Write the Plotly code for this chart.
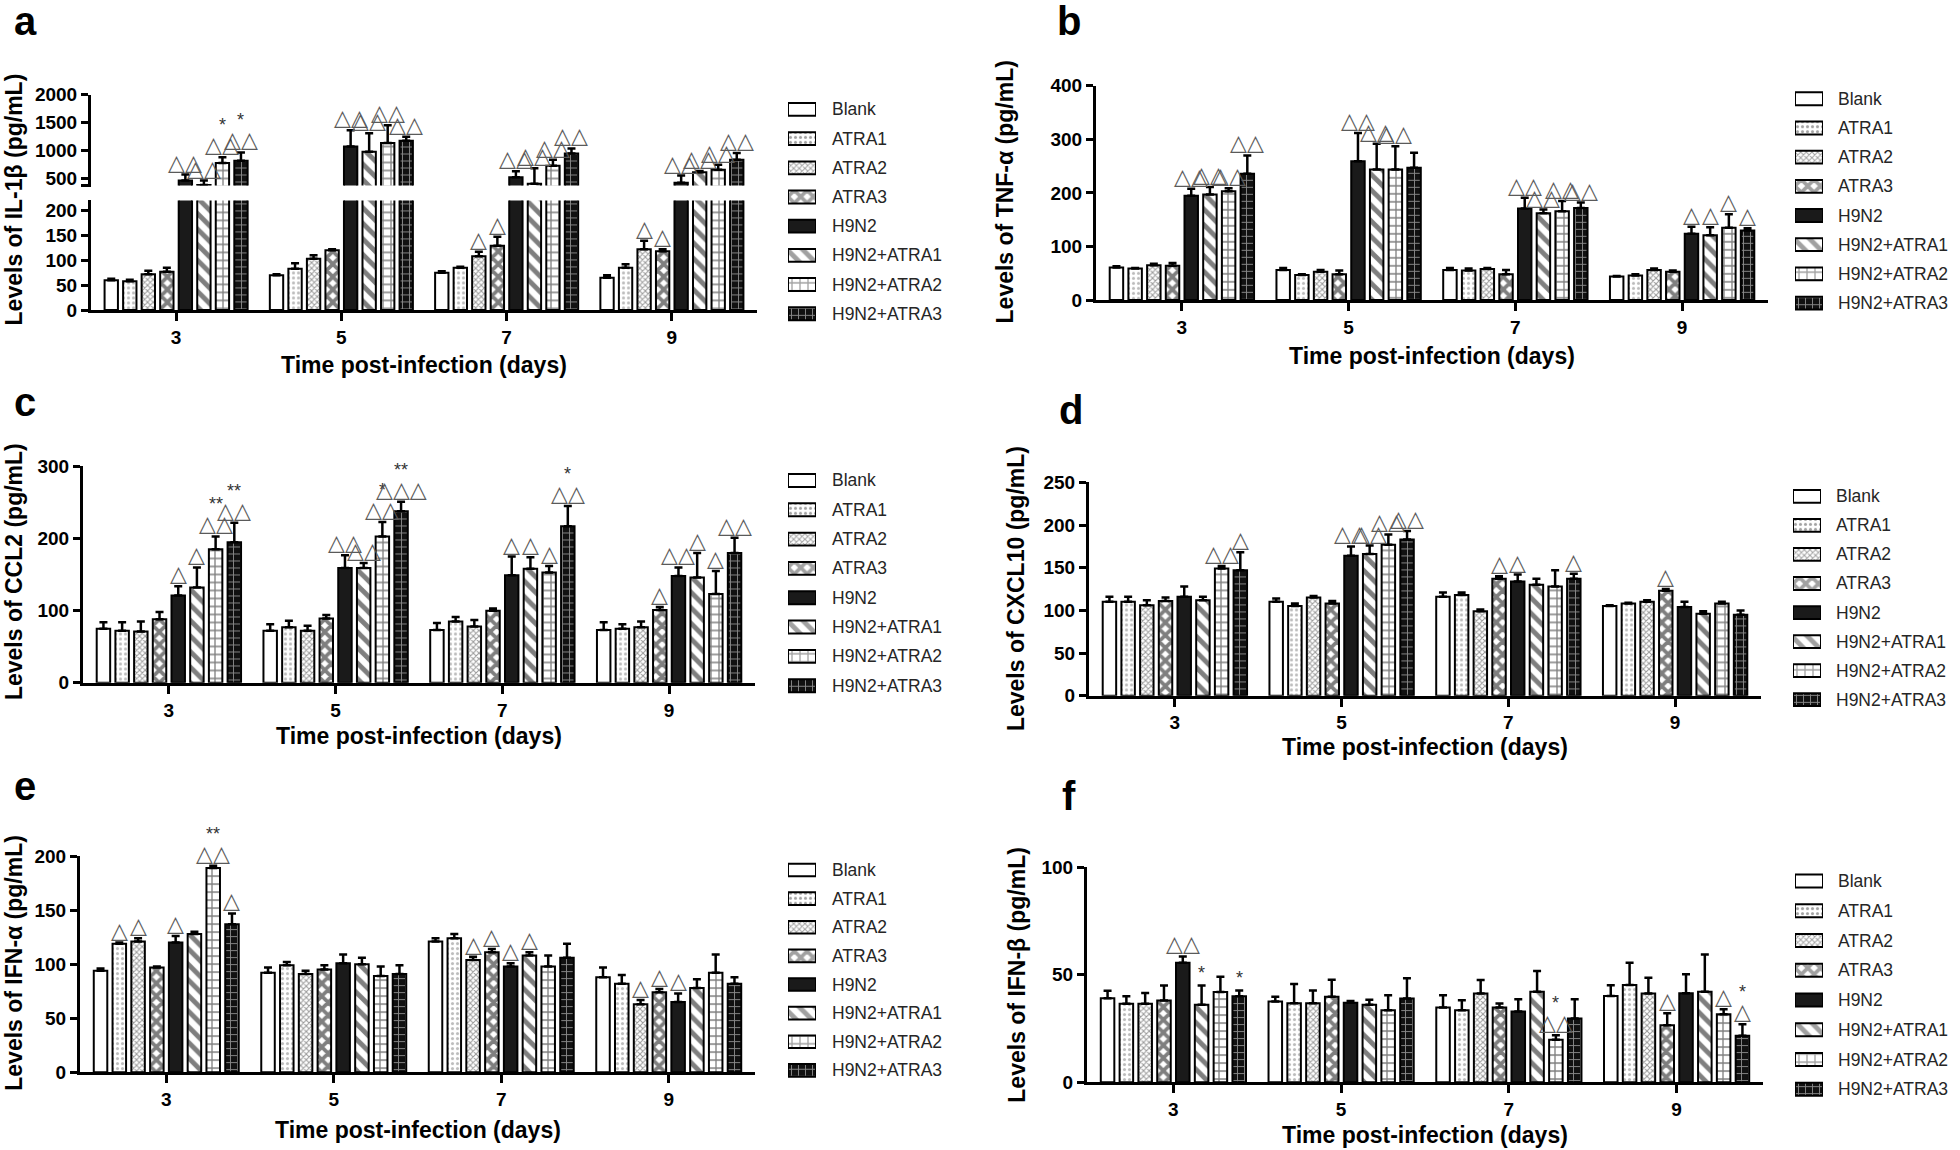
import plotly.graph_objects as go

W, H = 1960, 1150
FONT = "Liberation Sans, Arial, Helvetica, sans-serif"
SYM = "DejaVu Sans, sans-serif"

days = ["3", "5", "7", "9"]
groups = ["Blank", "ATRA1", "ATRA2", "ATRA3", "H9N2", "H9N2+ATRA1", "H9N2+ATRA2", "H9N2+ATRA3"]

# ---------------- data (rows = groups, columns = days 3,5,7,9) ----------------
il1b_mean = [[60, 70, 75, 65], [58, 83, 85, 85], [72, 103, 108, 122], [77, 120, 129, 118],
             [458, 1069, 518, 417], [380, 975, 400, 607], [773, 1129, 725, 654], [814, 1170, 945, 832]]
il1b_err = [[3, 2, 3, 5], [3, 11, 2, 7], [7, 7, 9, 17], [8, 2, 18, 4],
            [107, 290, 107, 130], [78, 330, 278, 23], [101, 320, 107, 89], [149, 71, 89, 118]]

tnfa_mean = [[61, 56, 56, 44], [59, 47, 55, 46], [65, 53, 58, 56], [64, 48, 48, 53],
             [195, 259, 171, 124], [197, 244, 162, 121], [203, 244, 166, 135], [236, 247, 172, 130]]
tnfa_err = [[2, 4, 4, 1], [1, 1, 4, 2], [3, 3, 2, 3], [5, 7, 8, 2],
            [13, 53, 20, 13], [14, 48, 7, 15], [6, 43, 19, 25], [34, 28, 10, 4]]

ccl2_mean = [[75, 72, 73, 73], [72, 77, 85, 75], [71, 72, 78, 77], [88, 89, 100, 101],
             [121, 159, 149, 148], [132, 159, 158, 146], [185, 203, 153, 123], [195, 238, 217, 180]]
ccl2_err = [[9, 9, 10, 11], [12, 9, 6, 6], [14, 7, 9, 8], [10, 5, 3, 4],
            [13, 18, 26, 12], [28, 7, 16, 34], [18, 20, 9, 32], [27, 13, 28, 21]]

cxcl10_mean = [[110, 110, 116, 105], [110, 105, 118, 108], [106, 115, 99, 110], [111, 108, 137, 123],
               [116, 164, 134, 104], [112, 166, 130, 96], [149, 177, 128, 108], [147, 183, 137, 95]]
cxcl10_err = [[6, 4, 5, 1], [6, 3, 3, 1], [6, 2, 2, 2], [4, 3, 3, 2],
              [12, 11, 8, 6], [4, 10, 7, 3], [3, 12, 19, 2], [21, 10, 6, 5]]

ifna_mean = [[94, 92, 121, 88], [119, 99, 124, 82], [121, 91, 104, 63], [97, 95, 111, 74],
             [120, 101, 98, 65], [128, 100, 108, 78], [189, 89, 98, 92], [137, 91, 106, 82]]
ifna_err = [[2, 5, 3, 9], [1, 3, 4, 8], [3, 3, 3, 4], [1, 4, 3, 3],
            [6, 8, 3, 8], [2, 6, 3, 8], [2, 9, 10, 17], [10, 8, 13, 6]]

ifnb_mean = [[39, 37.5, 34.7, 40.1], [36.5, 36.7, 33.5, 45.2], [36.5, 36.7, 41.2, 41.2], [38, 39.7, 34.7, 26.5],
             [55.5, 37, 32.9, 41.4], [36, 36, 42.1, 42.1], [42, 33.5, 19.8, 31.6], [40, 38.9, 29.6, 21.6]]
ifnb_err = [[3.5, 2.3, 5.7, 5], [3.5, 9, 4.6, 10.4], [5, 6, 6.3, 7.4], [7, 8, 1.9, 5.6],
            [3, 0.8, 5.7, 8.8], [9, 2.3, 9.6, 17.3], [7, 7, 2.1, 2.3], [2.7, 9.4, 9, 5.4]]

# significance marks: (day index, group index, triangles, stars)
il1b_marks = [(0, 4, "△△", ""), (0, 5, "△△", ""), (0, 6, "△△", "*"), (0, 7, "△△", "*"),
              (1, 4, "△△", ""), (1, 5, "△△", ""), (1, 6, "△△", ""), (1, 7, "△△", ""),
              (2, 2, "△", ""), (2, 3, "△", ""), (2, 4, "△△", ""), (2, 5, "△△", ""), (2, 6, "△△", ""), (2, 7, "△△", ""),
              (3, 2, "△", ""), (3, 3, "△", ""), (3, 4, "△△", ""), (3, 5, "△△", ""), (3, 6, "△△", ""), (3, 7, "△△", "")]
tnfa_marks = [(0, 4, "△△", ""), (0, 5, "△△", ""), (0, 6, "△△", ""), (0, 7, "△△", ""),
              (1, 4, "△△", ""), (1, 5, "△△", ""), (1, 6, "△△", ""),
              (2, 4, "△△", ""), (2, 5, "△△", ""), (2, 6, "△△", ""), (2, 7, "△△", ""),
              (3, 4, "△", ""), (3, 5, "△", ""), (3, 6, "△", ""), (3, 7, "△", "")]
ccl2_marks = [(0, 4, "△", ""), (0, 5, "△", ""), (0, 6, "△△", "**"), (0, 7, "△△", "**"),
              (1, 4, "△△", ""), (1, 5, "△△", ""), (1, 6, "△△", "*"), (1, 7, "△△△", "**"),
              (2, 4, "△", ""), (2, 5, "△", ""), (2, 6, "△", ""), (2, 7, "△△", "*"),
              (3, 3, "△", ""), (3, 4, "△△", ""), (3, 5, "△", ""), (3, 6, "△", ""), (3, 7, "△△", "")]
cxcl10_marks = [(0, 6, "△△", ""), (0, 7, "△", ""),
                (1, 4, "△△", ""), (1, 5, "△△", ""), (1, 6, "△△", ""), (1, 7, "△△", ""),
                (2, 3, "△", ""), (2, 4, "△", ""), (2, 7, "△", ""),
                (3, 3, "△", "")]
ifna_marks = [(0, 1, "△", ""), (0, 2, "△", ""), (0, 4, "△", ""), (0, 6, "△△", "**"), (0, 7, "△", ""),
              (2, 2, "△", ""), (2, 3, "△", ""), (2, 4, "△", ""), (2, 5, "△", ""),
              (3, 2, "△", ""), (3, 3, "△", ""), (3, 4, "△", "")]
ifnb_marks = [(0, 4, "△△", ""), (0, 5, "", "*"), (0, 7, "", "*"),
              (2, 6, "△△", "*"),
              (3, 3, "△", ""), (3, 6, "△", ""), (3, 7, "△", "*")]

# ---------------- styles ----------------
bar_fill = ["white", "white", "white", "white", "#1a1a1a", "white", "white", "#111111"]
pat_shape = ["", ".", "x", "x", "", "\\", "+", "+"]
pat_bg = ["white", "white", "white", "white", "#1a1a1a", "white", "white", "#111111"]
pat_fg = ["black", "#7a7a7a", "#333333", "black", "black", "black", "black", "white"]
pat_size = [8, 5, 4, 9, 8, 11, 8, 7]
pat_solid = [0.3, 0.3, 0.45, 0.65, 0.3, 0.45, 0.3, 0.25]

BARGAP = 0.103
SLOT = (1 - BARGAP) / 8


def X(p):
    return p / W


def Y(p):
    q = 1.015 * p - 7
    return 1 - q / H


fig = go.Figure()
annotations = []
shapes = []


def add_bars(n, means, errs, keep=None):
    for g in range(8):
        shown = keep is None or g in keep
        vals = list(means[g]) if shown else [None] * 4
        fig.add_trace(go.Bar(
            x=[0, 1, 2, 3], y=vals, name=groups[g], showlegend=False,
            xaxis="x" + str(n), yaxis="y" + str(n),
            marker=dict(color=bar_fill[g], line=dict(color="black", width=2),
                        pattern=dict(shape=pat_shape[g], bgcolor=pat_bg[g], fgcolor=pat_fg[g],
                                     size=pat_size[g], solidity=pat_solid[g])),
            error_y=dict(type="data", array=list(errs[g]), arrayminus=[0] * 4, symmetric=False,
                         color="black", thickness=2.5, width=4, visible=shown),
            hoverinfo="skip"))


def add_marks(n, marks, means, errs, which=None):
    for d, g, tri, star in marks:
        if which is not None and not which(g):
            continue
        xv = d + (g - 3.5) * SLOT
        yv = means[g][d] + errs[g][d]
        if tri:
            annotations.append(dict(x=xv, y=yv, xref="x" + str(n), yref="y" + str(n), text=tri,
                                    showarrow=False, yanchor="bottom", yshift=-2,
                                    font=dict(family=SYM, size=22, color="#5a5a5a")))
        if star:
            annotations.append(dict(x=xv, y=yv, xref="x" + str(n), yref="y" + str(n), text=star,
                                    showarrow=False, yanchor="bottom", yshift=(20 if tri else 0),
                                    font=dict(family=FONT, size=18, color="#333333")))


def xaxis_def(x0, x1, n, visible=True):
    d = dict(domain=[X(x0), X(x1)], anchor="y" + str(n), range=[-0.515, 3.515],
             tickmode="array", tickvals=[0, 1, 2, 3], ticktext=days,
             showline=True, linecolor="black", linewidth=3, ticks="outside", ticklen=8,
             tickwidth=3, tickcolor="black", showgrid=False, zeroline=False,
             tickfont=dict(family=FONT, size=19, color="black", weight="bold"),
             ticklabelstandoff=0, fixedrange=True)
    if not visible:
        d.update(visible=False)
    return d


def yaxis_def(y_top, y_bot, n, rng, tickvals):
    return dict(domain=[Y(y_bot), Y(y_top)], anchor="x" + str(n), range=rng,
                tickmode="array", tickvals=tickvals, showline=True, linecolor="black",
                linewidth=3, ticks="outside", ticklen=7, tickwidth=2.5, tickcolor="black",
                showgrid=False, zeroline=False,
                tickfont=dict(family=FONT, size=19, color="black", weight="bold"), fixedrange=True)


layout_axes = {}

# Panel a (broken axis): lower = 1, upper = 2
add_bars(1, il1b_mean, il1b_err)
for tr in fig.data[-4:]:
    tr.error_y.visible = False
add_bars(2, il1b_mean, il1b_err, keep=[4, 5, 6, 7])
layout_axes["xaxis"] = xaxis_def(91, 757, 1)
layout_axes["yaxis"] = yaxis_def(198, 308, 1, [0, 220], [0, 50, 100, 150, 200])
layout_axes["xaxis2"] = xaxis_def(91, 757, 2, visible=False)
layout_axes["yaxis2"] = yaxis_def(91.7, 183, 2, [370, 2000], [500, 1000, 1500, 2000])
add_marks(1, il1b_marks, il1b_mean, il1b_err, which=lambda g: g < 4)
add_marks(2, il1b_marks, il1b_mean, il1b_err, which=lambda g: g >= 4)
shapes.append(dict(type="line", xref="paper", yref="paper", x0=X(81), x1=X(91), y0=Y(183), y1=Y(183),
                   line=dict(color="black", width=3)))

panels = [
    # n, means, errs, marks, x0, x1, ytop, ybot, range, ticks
    (3, tnfa_mean, tnfa_err, tnfa_marks, 1096, 1768, 83, 298, [0, 400], [0, 100, 200, 300, 400]),
    (4, ccl2_mean, ccl2_err, ccl2_marks, 83, 755, 465, 682, [0, 300], [0, 100, 200, 300]),
    (5, cxcl10_mean, cxcl10_err, cxcl10_marks, 1089, 1761, 481, 695, [0, 250], [0, 50, 100, 150, 200, 250]),
    (6, ifna_mean, ifna_err, ifna_marks, 80, 755, 856, 1073, [0, 200], [0, 50, 100, 150, 200]),
    (7, ifnb_mean, ifnb_err, ifnb_marks, 1087, 1763, 867, 1083, [0, 100], [0, 50, 100]),
]
for n, m, e, mk, x0, x1, yt, yb, rng, tv in panels:
    add_bars(n, m, e)
    layout_axes["xaxis" + str(n)] = xaxis_def(x0, x1, n)
    layout_axes["yaxis" + str(n)] = yaxis_def(yt, yb, n, rng, tv)
    add_marks(n, mk, m, e)

# ---------------- legends (pattern swatches drawn as a small bar subplot) ----------------
legends = [
    (8, 788, 816, 830, 106.7, 311.7),
    (9, 1795, 1823, 1836, 96, 301),
    (10, 788, 816, 830, 479, 685),
    (11, 1793, 1821, 1834, 495, 699),
    (12, 788, 816, 830, 870, 1071),
    (13, 1795, 1823, 1836, 881, 1090),
]
for n, ix0, ix1, tx, r0, r1 in legends:
    sp = (r1 - r0) / 7
    fig.add_trace(go.Bar(
        y=list(range(8)), x=[1] * 8, orientation="h", width=0.44, showlegend=False,
        xaxis="x" + str(n), yaxis="y" + str(n), hoverinfo="skip",
        marker=dict(color=bar_fill, line=dict(color="black", width=2),
                    pattern=dict(shape=pat_shape, bgcolor=pat_bg, fgcolor=pat_fg,
                                 size=pat_size, solidity=pat_solid))))
    layout_axes["xaxis" + str(n)] = dict(domain=[X(ix0), X(ix1)], anchor="y" + str(n), range=[0, 1],
                                         visible=False, fixedrange=True)
    layout_axes["yaxis" + str(n)] = dict(domain=[Y(r1 + sp / 2), Y(r0 - sp / 2)], anchor="x" + str(n),
                                         range=[7.5, -0.5], visible=False, fixedrange=True)
    for i, gname in enumerate(groups):
        annotations.append(dict(x=X(tx), y=Y(r0 + i * sp), xref="paper", yref="paper", text=gname,
                                showarrow=False, xanchor="left", yanchor="middle",
                                font=dict(family=FONT, size=17.5, color="#262626")))

# ---------------- titles & panel letters ----------------
ytitles = [
    ("Levels of IL-1β (pg/mL)", 14, 197),
    ("Levels of TNF-α (pg/mL)", 1005, 190),
    ("Levels of CCL2 (pg/mL)", 14, 571),
    ("Levels of CXCL10 (pg/mL)", 1016, 588),
    ("Levels of IFN-α (pg/mL)", 14, 963),
    ("Levels of IFN-β (pg/mL)", 1017, 975),
]
for t, xx, yy in ytitles:
    annotations.append(dict(x=X(xx), y=Y(yy), xref="paper", yref="paper", text=t, textangle=-90,
                            showarrow=False, xanchor="center", yanchor="middle",
                            font=dict(family=FONT, size=23, color="black", weight="bold")))
xtitles = [(424, 363), (1432, 354), (419, 735), (1425, 747), (418, 1131), (1425, 1136)]
for xx, yy in xtitles:
    annotations.append(dict(x=X(xx), y=Y(yy), xref="paper", yref="paper", text="Time post-infection (days)",
                            showarrow=False, xanchor="center", yanchor="middle",
                            font=dict(family=FONT, size=23, color="black", weight="bold")))
letters = [("a", 25, 18), ("b", 1069, 18), ("c", 25, 400), ("d", 1071, 408), ("e", 25, 786), ("f", 1069, 796)]
for t, xx, yy in letters:
    annotations.append(dict(x=X(xx), y=Y(yy), xref="paper", yref="paper", text=t,
                            showarrow=False, xanchor="center", yanchor="middle",
                            font=dict(family=FONT, size=40, color="black", weight="bold")))

fig.update_layout(
    width=W, height=H, margin=dict(l=0, r=0, t=0, b=0),
    paper_bgcolor="white", plot_bgcolor="white",
    barmode="group", bargap=BARGAP, bargroupgap=0.28,
    showlegend=False, annotations=annotations, shapes=shapes,
    **layout_axes)

fig.write_html("out.html", config={"displayModeBar": False, "responsive": False},
               post_script="document.body.style.margin='0px';document.body.style.overflow='hidden';")
